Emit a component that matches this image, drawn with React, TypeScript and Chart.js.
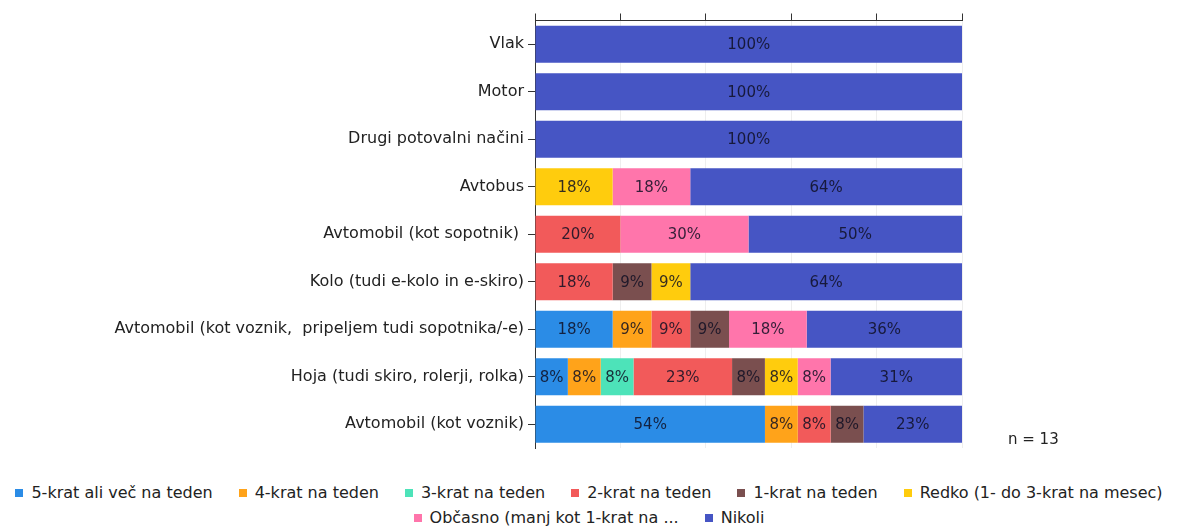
import React, { useEffect, useRef } from "react";
import { Chart, registerables } from "chart.js";

Chart.register(...registerables);

const categories = [
  "Vlak",
  "Motor",
  "Drugi potovalni načini",
  "Avtobus",
  "Avtomobil (kot sopotnik) ",
  "Kolo (tudi e-kolo in e-skiro)",
  "Avtomobil (kot voznik,  pripeljem tudi sopotnika/-e)",
  "Hoja (tudi skiro, rolerji, rolka)",
  "Avtomobil (kot voznik)",
];

const seriesNames = [
  "5-krat ali več na teden",
  "4-krat na teden",
  "3-krat na teden",
  "2-krat na teden",
  "1-krat na teden",
  "Redko (1- do 3-krat na mesec)",
  "Občasno (manj kot 1-krat na ...",
  "Nikoli",
];

const colors = ["#2b8ce6", "#ffa31a", "#4de3b9", "#f25a5a", "#7a4f4f", "#ffcc0d", "#ff75ab", "#4655c4"];

const s5krat = [0, 0, 0, 0, 0, 0, 18.18, 7.69, 53.85];
const s4krat = [0, 0, 0, 0, 0, 0, 9.09, 7.69, 7.69];
const s3krat = [0, 0, 0, 0, 0, 0, 0, 7.69, 0];
const s2krat = [0, 0, 0, 0, 20, 18.18, 9.09, 23.08, 7.69];
const s1krat = [0, 0, 0, 0, 0, 9.09, 9.09, 7.69, 7.69];
const sRedko = [0, 0, 0, 18.18, 0, 9.09, 0, 7.69, 0];
const sObcasno = [0, 0, 0, 18.18, 30, 0, 18.18, 7.69, 0];
const sNikoli = [100, 100, 100, 63.64, 50, 63.64, 36.36, 30.77, 23.08];

const seriesValues = [s5krat, s4krat, s3krat, s2krat, s1krat, sRedko, sObcasno, sNikoli];

const xTicks = [0, 20, 40, 60, 80, 100];
const nLabel = "n = 13";

const FONT = "'DejaVu Sans', Verdana, sans-serif";

const labelPlugin = {
  id: "segLabels",
  afterDatasetsDraw(chart: any) {
    const ctx = chart.ctx;
    ctx.save();
    ctx.font = `15px ${FONT}`;
    ctx.fillStyle = "rgba(15,15,35,0.85)";
    ctx.textAlign = "center";
    ctx.textBaseline = "middle";
    chart.data.datasets.forEach((ds: any, di: number) => {
      const meta = chart.getDatasetMeta(di);
      meta.data.forEach((el: any, i: number) => {
        const v = ds.data[i];
        if (!v) return;
        const cx = (el.x + el.base) / 2;
        ctx.fillText(Math.round(v) + "%", cx, el.y + 1);
      });
    });
    const area = chart.chartArea;
    ctx.textAlign = "left";
    ctx.fillStyle = "#222";
    ctx.fillText(nLabel, area.right + 46, area.bottom - 8);
    ctx.restore();
  },
};

export default function App() {
  const ref = useRef<HTMLCanvasElement>(null);
  useEffect(() => {
    if (!ref.current) return;
    const chart = new Chart(ref.current, {
      type: "bar",
      data: {
        labels: categories,
        datasets: seriesNames.map((name, i) => ({
          label: name,
          data: seriesValues[i],
          backgroundColor: colors[i],
          borderWidth: 0,
          barPercentage: 0.78,
          categoryPercentage: 1,
        })),
      },
      options: {
        indexAxis: "y",
        responsive: false,
        animation: false,
        layout: { padding: { left: 0, right: 216, top: 0, bottom: 27 } },
        plugins: {
          legend: { display: false },
          tooltip: { enabled: false },
          title: { display: false },
        },
        scales: {
          x: {
            position: "top",
            stacked: true,
            min: 0,
            max: 100,
            afterBuildTicks: (s: any) => {
              s.ticks = xTicks.map((v) => ({ value: v }));
            },
            ticks: { display: false },
            grid: {
              color: "#eeeeee",
              tickColor: "#333",
              tickLength: 7,
              drawTicks: true,
            },
            border: { display: true, color: "#333", width: 1 },
            afterFit: (s: any) => {
              s.height = 20.5;
            },
          },
          y: {
            stacked: true,
            offset: true,
            ticks: {
              color: "#222",
              font: { family: FONT, size: 16 },
              padding: 4,
              autoSkip: false,
            },
            grid: {
              display: true,
              drawOnChartArea: false,
              offset: false,
              tickColor: "#333",
              tickLength: 7,
            },
            border: { display: true, color: "#333", width: 1 },
            afterFit: (s: any) => {
              s.width = 535;
            },
          },
        },
      },
      plugins: [labelPlugin],
    } as any);
    return () => chart.destroy();
  }, []);

  return (
    <div style={{ position: "absolute", left: 0, top: 0, width: 1178, height: 527, background: "#fff" }}>
      <canvas ref={ref} width={1178} height={475} style={{ display: "block" }} />
      <div
        style={{
          display: "flex",
          flexWrap: "wrap",
          justifyContent: "center",
          columnGap: 26,
          rowGap: 6,
          fontFamily: FONT,
          fontSize: 16,
          color: "#222",
          marginTop: 8,
          padding: "0 2px",
        }}
      >
        {seriesNames.map((n, i) => (
          <div key={n} style={{ display: "flex", alignItems: "center", lineHeight: "19px", whiteSpace: "nowrap" }}>
            <span style={{ width: 8, height: 8, background: colors[i], display: "inline-block", marginRight: 8 }} />
            <span>{n}</span>
          </div>
        ))}
      </div>
    </div>
  );
}
